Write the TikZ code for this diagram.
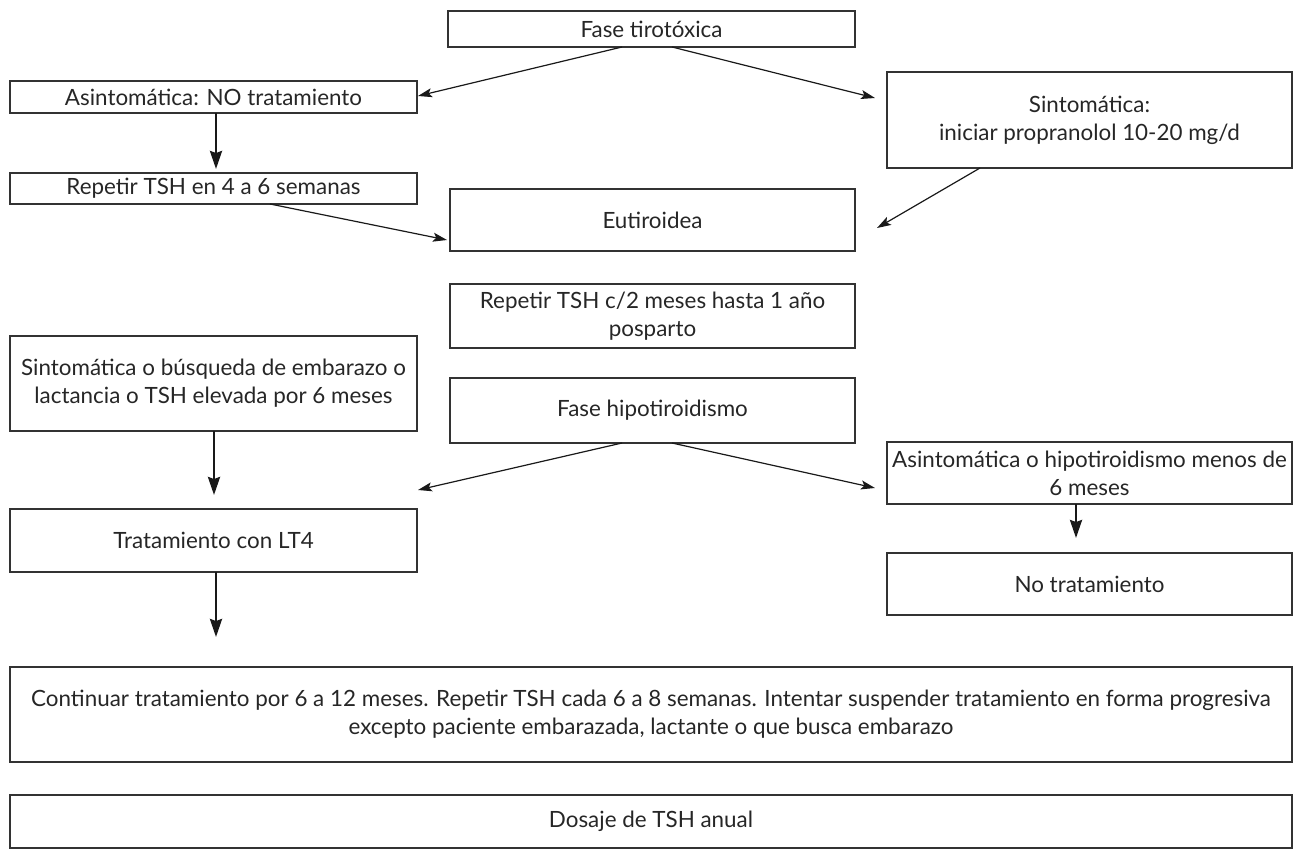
\documentclass[tikz,border=0pt]{standalone}
\usepackage{fontspec}
\setmainfont{Lato}
\usetikzlibrary{arrows.meta,calc}
\begin{document}
\begin{tikzpicture}[x=1pt,y=-1pt,
  box/.style={draw=black!80, line width=1.3pt, inner sep=0pt, outer sep=0pt, align=center,
    font=\fontsize{22.4}{28}\selectfont, text=black!85},
  thinarrow/.style={line width=1.2pt, draw=black!90, -{Stealth[length=14pt,width=9pt,inset=3pt]}},
  thickarrow/.style={line width=2.6pt, draw=black!90, -{Stealth[length=18pt,width=12pt,inset=2pt]}}]
\useasboundingbox (0,0) rectangle (1297,851);

\node[box, minimum width=407, minimum height=36] (tiro) at (651.5,29) {Fase tirotóxica};
\node[box, minimum width=407, minimum height=32] (asin) at (213.5,97) {Asintomática: NO tratamiento};
\node[box, minimum width=405, minimum height=96] (sint) at (1089.5,120) {Sintomática:\\iniciar propranolol 10-20 mg/d};
\node[box, minimum width=407, minimum height=31] (rep4) at (213.5,188.5) {Repetir TSH en 4 a 6 semanas};
\node[box, minimum width=405, minimum height=62] (euti) at (652.5,220) {Eutiroidea};
\node[box, minimum width=405, minimum height=64] (rep2) at (652.5,316) {Repetir TSH c/2 meses hasta 1 año\\posparto};
\node[box, minimum width=407, minimum height=95] (busq) at (213.5,383.5) {Sintomática o búsqueda de embarazo o\\lactancia o TSH elevada por 6 meses};
\node[box, minimum width=405, minimum height=65] (hipo) at (652.5,410.5) {Fase hipotiroidismo};
\node[box, minimum width=405, minimum height=62] (asint2) at (1089.5,473) {Asintomática o hipotiroidismo menos de\\6 meses};
\node[box, minimum width=407, minimum height=63] (trat) at (213.5,540.5) {Tratamiento con LT4};
\node[box, minimum width=405, minimum height=62] (notrat) at (1089.5,584) {No tratamiento};
\node[box, minimum width=1282, minimum height=95] (cont) at (651,714.5) {Continuar tratamiento por 6 a 12 meses. Repetir TSH cada 6 a 8 semanas. Intentar suspender tratamiento en forma progresiva\\excepto paciente embarazada, lactante o que busca embarazo};
\node[box, minimum width=1282, minimum height=53] (dos) at (651,821.5) {Dosaje de TSH anual};

\draw[thinarrow] ($(tiro.south)+(-29.5,0)$) -- ($(asin.east)+(1,-1)$);
\draw[thinarrow] ($(tiro.south)+(20.5,0)$) -- ($(sint.west)+(-12,-22)$);
\draw[thickarrow] ($(asin.south)+(2.5,0)$) -- ($(rep4.north)+(2.5,-4)$);
\draw[thinarrow] ($(rep4.south)+(56.5,0)$) -- ($(euti.west)+(-3,20)$);
\draw[thinarrow] ($(sint.south)+(-109.5,0)$) -- ($(euti.east)+(22,8)$);
\draw[thickarrow] ($(busq.south)+(0.5,0)$) -- ($(trat.north)+(0.5,-14)$);
\draw[thinarrow] ($(hipo.south)+(-30.5,0)$) -- ($(trat.north east)+(1,-19)$);
\draw[thinarrow] ($(hipo.south)+(19.5,0)$) -- ($(asint2.west)+(-12,15)$);
\draw[thickarrow] ($(asint2.south)+(-13.5,0)$) -- ($(notrat.north)+(-13.5,-15)$);
\draw[thickarrow] ($(trat.south)+(2.5,0)$) -- ($(trat.south)+(2.5,65)$);
\end{tikzpicture}
\end{document}
